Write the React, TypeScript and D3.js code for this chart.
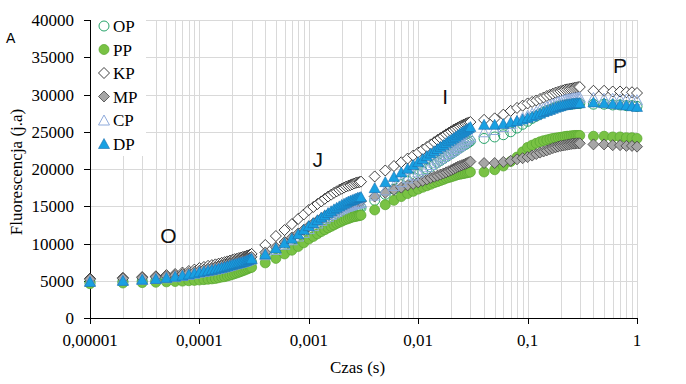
import React from "react";
import * as d3 from "d3";

const WIDTH = 686;
const HEIGHT = 384;
const PLOT = { left: 90, right: 637, top: 20, bottom: 318 };

// czas pomiaru w mikrosekundach
const timeUs = [
  10, 20, 30, 40, 50, 60, 70, 80, 90, 100, 110, 120, 130, 140, 150,
  160, 170, 180, 190, 200, 210, 220, 230, 240, 250, 260, 270, 280, 290, 300,
  400, 500, 600, 700, 800, 900, 1000, 1100, 1200, 1300, 1400, 1500, 1600, 1700,
  1800, 1900, 2000, 2100, 2200, 2300, 2400, 2500, 2600, 2700, 2800, 2900, 3000,
  4000, 5000, 6000, 7000, 8000, 9000, 10000, 11000, 12000, 13000, 14000, 15000,
  16000, 17000, 18000, 19000, 20000, 21000, 22000, 23000, 24000, 25000, 26000,
  27000, 28000, 29000, 30000,
  40000, 50000, 60000, 70000, 80000, 90000, 100000, 110000, 120000, 130000,
  140000, 150000, 160000, 170000, 180000, 190000, 200000, 210000, 220000,
  230000, 240000, 250000, 260000, 270000, 280000, 290000, 300000,
  400000, 500000, 600000, 700000, 800000, 900000, 1000000,
];

const OP = [
  4800, 4900, 4950, 5000, 5100, 5200, 5300, 5400, 5500, 5600, 5700, 5800, 5900, 6000, 6100,
  6200, 6300, 6400, 6500, 6600, 6700, 6800, 6900, 7000, 7100, 7150, 7250, 7350, 7450, 7500,
  8200, 8800, 9400, 9900, 10400, 10900, 11300, 11700, 12050, 12350, 12650, 12900, 13150, 13350,
  13550, 13750, 13900, 14050, 14200, 14300, 14400, 14500, 14600, 14650, 14700, 14750, 14800,
  15800, 16600, 17300, 17900, 18400, 18900, 19300, 19650, 20000, 20300, 20600, 20900, 21150,
  21400, 21650, 21850, 22050, 22250, 22450, 22650, 22850, 23000, 23150, 23300, 23450, 23600, 23750,
  24100, 24300, 24600, 25000, 25500, 26000, 26400, 26800, 27100, 27400, 27650, 27850, 28000,
  28150, 28300, 28400, 28500, 28550, 28600, 28650, 28700, 28700, 28750, 28750, 28800, 28800, 28800,
  28700, 28700, 28600, 28600, 28500, 28500, 28400,
];

const PP = [
  4600, 4700, 4750, 4800, 4850, 4900, 4950, 5000, 5050, 5100, 5150, 5200, 5250, 5300, 5400,
  5500, 5550, 5650, 5750, 5850, 5950, 6050, 6150, 6250, 6350, 6450, 6550, 6650, 6750, 6800,
  7400, 8000, 8600, 9100, 9600, 10100, 10600, 10950, 11300, 11600, 11850, 12100, 12300, 12500,
  12700, 12850, 13000, 13150, 13250, 13350, 13450, 13550, 13600, 13650, 13700, 13750, 13800,
  14500, 15200, 15800, 16300, 16700, 17000, 17300, 17550, 17750, 17950, 18150, 18300, 18450,
  18600, 18750, 18850, 18950, 19050, 19150, 19250, 19300, 19350, 19400, 19450, 19500, 19550, 19600,
  19600, 19900, 20400, 21000, 21600, 22300, 22900, 23200, 23450, 23650, 23800, 23900, 24000,
  24100, 24150, 24200, 24250, 24300, 24350, 24400, 24400, 24450, 24450, 24500, 24500, 24500, 24500,
  24400, 24400, 24300, 24300, 24200, 24200, 24100,
];

const KP = [
  5300, 5400, 5500, 5600, 5750, 5900, 6100, 6300, 6500, 6700, 6850, 7000, 7100, 7200, 7300,
  7400, 7500, 7600, 7700, 7800, 7900, 7950, 8050, 8100, 8200, 8250, 8350, 8400, 8500, 8600,
  9800, 11000, 11800, 12600, 13300, 13900, 14500, 14900, 15300, 15650, 16000, 16300, 16550, 16800,
  17000, 17200, 17350, 17500, 17650, 17750, 17850, 17950, 18050, 18150, 18200, 18250, 18300,
  19000, 19800, 20400, 20900, 21400, 21800, 22200, 22600, 22950, 23300, 23600, 23900, 24150,
  24400, 24650, 24850, 25050, 25250, 25400, 25550, 25700, 25850, 25950, 26050, 26150, 26250, 26300,
  26600, 26800, 27300, 27800, 28200, 28500, 28800, 29000, 29200, 29400, 29600, 29800, 29950,
  30100, 30250, 30350, 30450, 30550, 30650, 30700, 30750, 30800, 30850, 30900, 30950, 31000, 31000,
  30500, 30500, 30400, 30400, 30300, 30300, 30200,
];

const MP = [
  5200, 5300, 5400, 5500, 5600, 5750, 5900, 6050, 6200, 6350, 6500, 6600, 6700, 6800, 6900,
  7000, 7100, 7200, 7300, 7400, 7500, 7550, 7650, 7700, 7800, 7850, 7950, 8000, 8100, 8200,
  8800, 9500, 10200, 10800, 11350, 11850, 12300, 12700, 13050, 13350, 13650, 13900, 14100, 14300,
  14500, 14650, 14800, 14950, 15100, 15200, 15300, 15400, 15500, 15550, 15600, 15650, 15700,
  16300, 16800, 17200, 17500, 17800, 18000, 18200, 18400, 18600, 18800, 18950, 19100, 19250,
  19400, 19550, 19700, 19850, 20000, 20150, 20300, 20400, 20500, 20600, 20700, 20800, 20900, 21000,
  20800, 20800, 20950, 21100, 21300, 21450, 21600, 21800, 22000, 22200, 22350, 22500, 22650,
  22800, 22900, 23000, 23100, 23150, 23200, 23250, 23300, 23350, 23400, 23400, 23450, 23450, 23450,
  23300, 23300, 23200, 23200, 23100, 23100, 23000,
];

const CP = [
  5000, 5100, 5200, 5300, 5400, 5550, 5700, 5850, 6000, 6150, 6250, 6350, 6450, 6550, 6650,
  6750, 6850, 6950, 7050, 7150, 7250, 7300, 7400, 7450, 7550, 7600, 7700, 7800, 7900, 7950,
  8500, 9200, 9900, 10500, 11000, 11500, 12000, 12400, 12750, 13100, 13400, 13650, 13900, 14100,
  14300, 14500, 14650, 14800, 14950, 15050, 15150, 15250, 15350, 15400, 15450, 15500, 15550,
  16500, 17200, 17800, 18300, 18800, 19200, 19600, 19950, 20300, 20600, 20900, 21200, 21450,
  21700, 21950, 22150, 22350, 22550, 22750, 22950, 23150, 23350, 23550, 23750, 23950, 24150, 24350,
  25000, 25300, 25700, 26100, 26500, 26900, 27200, 27500, 27750, 28000, 28200, 28400, 28600,
  28750, 28900, 29050, 29150, 29250, 29350, 29400, 29450, 29500, 29550, 29600, 29600, 29650, 29650,
  29600, 29500, 29500, 29400, 29400, 29300, 29300,
];

const DP = [
  4900, 5050, 5200, 5300, 5450, 5600, 5750, 5900, 6050, 6200, 6300, 6400, 6500, 6600, 6700,
  6800, 6900, 7000, 7100, 7200, 7300, 7350, 7450, 7500, 7600, 7650, 7750, 7850, 7950, 8000,
  8600, 9400, 10100, 10700, 11300, 11900, 12400, 12800, 13200, 13550, 13850, 14150, 14400, 14650,
  14850, 15050, 15250, 15400, 15550, 15700, 15800, 15900, 16000, 16100, 16200, 16250, 16300,
  17500, 18300, 19000, 19600, 20100, 20600, 21000, 21400, 21800, 22150, 22450, 22750, 23050,
  23300, 23550, 23800, 24000, 24200, 24400, 24600, 24800, 24950, 25100, 25250, 25400, 25550, 25700,
  26000, 26000, 26100, 26300, 26500, 26700, 26900, 27100, 27300, 27500, 27700, 27850, 28000,
  28150, 28300, 28400, 28500, 28600, 28650, 28700, 28750, 28800, 28850, 28850, 28900, 28900, 28900,
  29000, 28900, 28800, 28700, 28600, 28500, 28400,
];

const seriesNames = ["OP", "PP", "KP", "MP", "CP", "DP"];
const seriesValues = [OP, PP, KP, MP, CP, DP];

const xTicks = [0.00001, 0.0001, 0.001, 0.01, 0.1, 1];
const xTickLabels = ["0,00001", "0,0001", "0,001", "0,01", "0,1", "1"];
const yTicks = [0, 5000, 10000, 15000, 20000, 25000, 30000, 35000, 40000];

const phaseNames = ["O", "J", "I", "P"];
const phaseTimes = [0.000052, 0.00121, 0.0176, 0.7];
const phaseValues = [10100, 20300, 28700, 32900];

type MarkerStyle = {
  shape: "circle" | "diamond" | "triangle";
  fill: string;
  stroke: string;
  sw: number;
};

const markerStyles: Record<string, MarkerStyle> = {
  OP: { shape: "circle", fill: "none", stroke: "#27a46a", sw: 1 },
  PP: { shape: "circle", fill: "#79c244", stroke: "#5aa832", sw: 0.75 },
  KP: { shape: "diamond", fill: "#ffffff", stroke: "#000000", sw: 0.75 },
  MP: { shape: "diamond", fill: "#a6a6a6", stroke: "#3a3a3a", sw: 0.75 },
  CP: { shape: "triangle", fill: "none", stroke: "#8eaadb", sw: 1 },
  DP: { shape: "triangle", fill: "#18a0e2", stroke: "#1b6fae", sw: 0.6 },
};

const serif = "'Liberation Serif', 'Times New Roman', serif";
const sans = "'Liberation Sans', Arial, sans-serif";

const diamondPath = (s: number) => `M0,${-s}L${s},0L0,${s}L${-s},0Z`;
const trianglePath = (w: number, h: number) =>
  `M0,${-h / 2}L${w / 2},${h / 2}L${-w / 2},${h / 2}Z`;

function Marker({ st, x, y }: { st: MarkerStyle; x: number; y: number }) {
  if (st.shape === "circle") {
    return <circle cx={x} cy={y} r={5} fill={st.fill} stroke={st.stroke} strokeWidth={st.sw} />;
  }
  const d = st.shape === "diamond" ? diamondPath(5.5) : trianglePath(11, 10);
  return (
    <path
      d={d}
      transform={`translate(${x},${y})`}
      fill={st.fill}
      stroke={st.stroke}
      strokeWidth={st.sw}
    />
  );
}

export default function App() {
  const x = d3.scaleLog().domain([0.00001, 1]).range([PLOT.left, PLOT.right]);
  const y = d3.scaleLinear().domain([0, 40000]).range([PLOT.bottom, PLOT.top]);
  const gridX = x.ticks();
  const times = timeUs.map((t) => t / 1e6);

  return (
    <svg
      width={WIDTH}
      height={HEIGHT}
      style={{ position: "absolute", left: 0, top: 0, background: "#fff" }}
    >
      <rect width={WIDTH} height={HEIGHT} fill="#fff" />

      {/* siatka */}
      <g stroke="#d9d9d9" strokeWidth={1}>
        {gridX.map((t, i) => {
          const px = Math.round(x(t)) + 0.5;
          return <line key={"gx" + i} x1={px} x2={px} y1={PLOT.top} y2={PLOT.bottom} />;
        })}
        {yTicks.slice(1).map((v) => {
          const py = Math.round(y(v)) + 0.5;
          return <line key={"gy" + v} x1={PLOT.left} x2={PLOT.right} y1={py} y2={py} />;
        })}
      </g>

      {/* osie */}
      <g stroke="#000" strokeWidth={1}>
        <line x1={PLOT.left + 0.5} x2={PLOT.left + 0.5} y1={PLOT.top} y2={PLOT.bottom + 0.5} />
        <line x1={PLOT.left} x2={PLOT.right + 0.5} y1={PLOT.bottom + 0.5} y2={PLOT.bottom + 0.5} />
        {yTicks.map((v) => {
          const py = Math.round(y(v)) + 0.5;
          return <line key={"ty" + v} x1={PLOT.left - 6} x2={PLOT.left} y1={py} y2={py} />;
        })}
        {xTicks.map((t) => {
          const px = Math.round(x(t)) + 0.5;
          return <line key={"tx" + t} x1={px} x2={px} y1={PLOT.bottom} y2={PLOT.bottom + 6} />;
        })}
      </g>

      <g fontFamily={serif} fontSize={17} fill="#000">
        {yTicks.map((v) => (
          <text key={"ly" + v} x={PLOT.left - 16} y={y(v) + 6} textAnchor="end">
            {v}
          </text>
        ))}
        {xTicks.map((t, i) => (
          <text key={"lx" + t} x={x(t)} y={PLOT.bottom + 28} textAnchor="middle">
            {xTickLabels[i]}
          </text>
        ))}
        <text x={(PLOT.left + PLOT.right) / 2 - 6} y={373} textAnchor="middle">
          Czas (s)
        </text>
        <text transform={`translate(22,${(PLOT.top + PLOT.bottom) / 2 + 3}) rotate(-90)`} textAnchor="middle">
          Fluorescencja (j.a)
        </text>
      </g>

      {/* serie */}
      {seriesNames.map((name, si) => (
        <g key={name}>
          {seriesValues[si].map((v, i) => (
            <Marker key={i} st={markerStyles[name]} x={x(times[i])} y={y(v)} />
          ))}
        </g>
      ))}

      {/* fazy OJIP */}
      <g fontFamily={sans} fontSize={21} fill="#111">
        {phaseNames.map((p, i) => (
          <text key={p} x={x(phaseTimes[i])} y={y(phaseValues[i])} textAnchor="middle">
            {p}
          </text>
        ))}
      </g>

      <text x={6} y={43} fontFamily={sans} fontSize={14} fill="#000">
        A
      </text>

      {/* legenda */}
      <rect x={91} y={13} width={55} height={143} fill="#fff" />
      <g fontFamily={serif} fontSize={17} fill="#000">
        {seriesNames.map((name, i) => {
          const cy = 26 + i * 23.5;
          return (
            <g key={"leg" + name}>
              <Marker st={markerStyles[name]} x={104} y={cy} />
              <text x={113} y={cy + 6}>
                {name}
              </text>
            </g>
          );
        })}
      </g>
    </svg>
  );
}
